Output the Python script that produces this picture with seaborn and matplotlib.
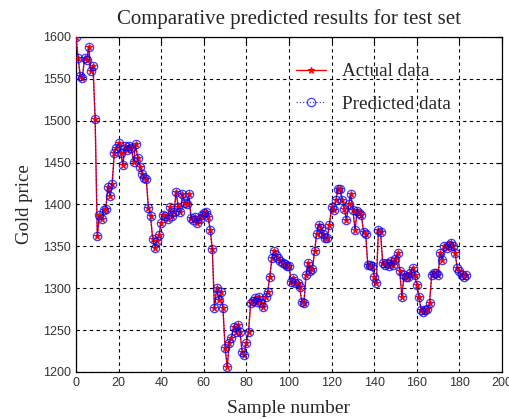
import matplotlib
matplotlib.use("Agg")
import matplotlib.pyplot as plt
import seaborn as sns
import pandas as pd

actual = [1600, 1575, 1553, 1551, 1575, 1572, 1588, 1559, 1565, 1502,
          1362, 1387, 1383, 1393, 1395, 1421, 1410, 1425, 1462, 1467,
          1473, 1462, 1447, 1470, 1465, 1470, 1468, 1451, 1472, 1455,
          1445, 1437, 1432, 1430, 1396, 1386, 1359, 1348, 1357, 1364,
          1378, 1387, 1386, 1383, 1397, 1386, 1391, 1415, 1397, 1391,
          1413, 1402, 1400, 1412, 1384, 1382, 1385, 1378, 1383, 1388,
          1390, 1391, 1385, 1370, 1347, 1276, 1300, 1286, 1295, 1276,
          1229, 1206, 1235, 1241, 1254, 1248, 1256, 1248, 1224, 1220,
          1235, 1248, 1282, 1285, 1288, 1284, 1290, 1282, 1278, 1290,
          1296, 1314, 1336, 1344, 1340, 1336, 1332, 1330, 1329, 1327,
          1327, 1308, 1312, 1306, 1306, 1302, 1284, 1282, 1316, 1330,
          1320, 1323, 1344, 1365, 1376, 1372, 1365, 1360, 1360, 1376,
          1397, 1393, 1405, 1419, 1418, 1405, 1395, 1381, 1400, 1412,
          1394, 1370, 1392, 1390, 1388, 1367, 1365, 1328, 1328, 1326,
          1314, 1306, 1370, 1367, 1330, 1328, 1330, 1326, 1333, 1328,
          1335, 1342, 1320, 1290, 1316, 1313, 1314, 1318, 1324, 1316,
          1304, 1290, 1274, 1272, 1274, 1275, 1282, 1316, 1318, 1318,
          1316, 1342, 1334, 1350, 1348, 1352, 1354, 1350, 1342, 1324,
          1320, 1316, 1314, 1316]
# predicted values are visually indistinguishable from the actual ones
predicted = list(actual)
samples = list(range(len(actual)))

x_ticks = [0, 20, 40, 60, 80, 100, 120, 140, 160, 180, 200]
y_ticks = [1200, 1250, 1300, 1350, 1400, 1450, 1500, 1550, 1600]

sns.set_style("white")
plt.rcParams['font.family'] = ['Liberation Sans', 'DejaVu Sans']

fig = plt.figure(figsize=(5.09, 4.19), dpi=100)
ax = fig.add_axes([0.1493, 0.1122, 0.8369, 0.7995])

df = pd.DataFrame({"x": samples, "actual": actual, "predicted": predicted})

sns.lineplot(data=df, x="x", y="actual", ax=ax, color="red", linewidth=1.0,
             marker="*", markersize=5, markeredgecolor="red",
             markerfacecolor="red", label="Actual data", zorder=3)
sns.lineplot(data=df, x="x", y="predicted", ax=ax, color="blue",
             linewidth=0.9, linestyle=":", marker="o", markersize=6,
             markeredgecolor="blue", markerfacecolor="none",
             markeredgewidth=0.9, alpha=0.75, label="Predicted data",
             zorder=4)

ax.set_xlim(0, 200)
ax.set_ylim(1200, 1600)
ax.set_xticks(x_ticks)
ax.set_yticks(y_ticks)
ax.tick_params(direction="in", length=4, width=0.8, labelsize=9,
               top=True, right=True, colors="black", labelcolor="#333333")
ax.grid(True, color="black", linestyle=(0, (3, 3)), linewidth=0.8)
for s in ax.spines.values():
    s.set_color("black")
    s.set_linewidth(0.9)

serif = ['Liberation Serif', 'DejaVu Serif']
ax.set_title("Comparative predicted results for test set", family=serif,
             fontsize=15, pad=9)
ax.set_xlabel("Sample number", family=serif, fontsize=14, labelpad=8)
ax.set_ylabel("Gold price", family=serif, fontsize=13.5, labelpad=7.5)

leg = ax.legend(loc="upper left", bbox_to_anchor=(0.516, 0.923),
                frameon=False, prop={'family': serif, 'size': 13.8},
                handlelength=1.6, handletextpad=0.8, labelspacing=0.8,
                borderpad=0, borderaxespad=0)

fig.savefig("out.png", dpi=100)
